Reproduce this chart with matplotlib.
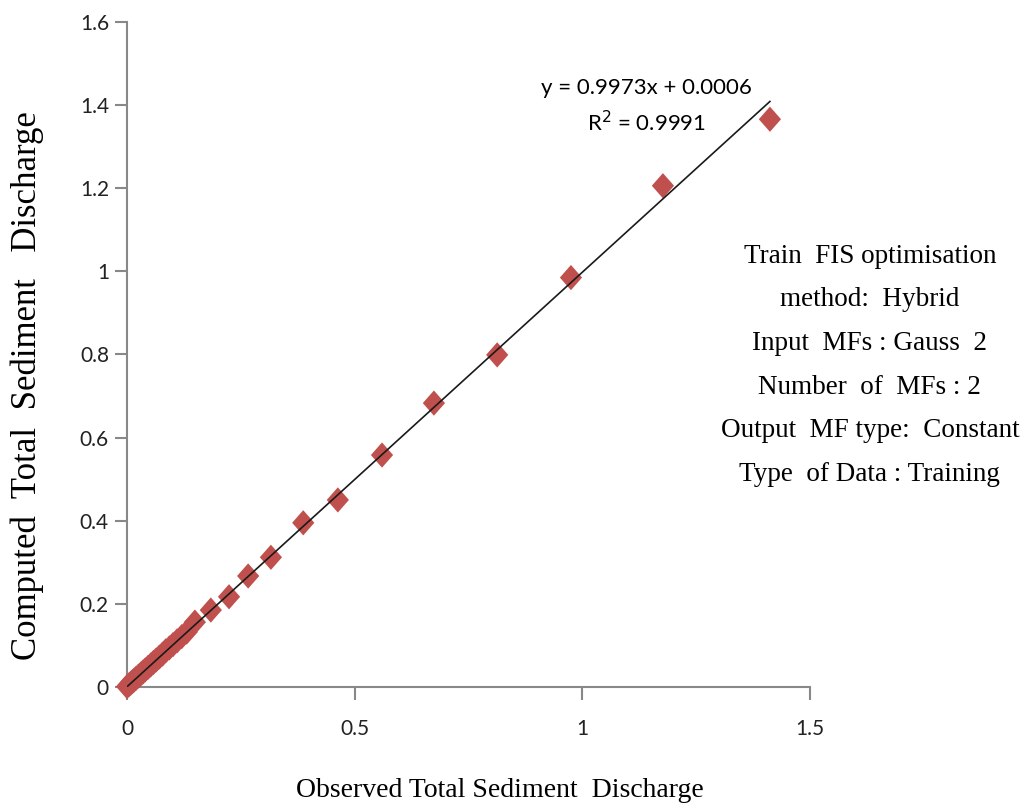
import numpy as np
import matplotlib
matplotlib.use('Agg')
import matplotlib.pyplot as plt

# observed vs computed total sediment discharge (training data)
observed = [0.000, 0.004, 0.008, 0.012, 0.016, 0.020, 0.025, 0.030, 0.035, 0.040,
            0.046, 0.052, 0.058, 0.064, 0.071, 0.078, 0.085, 0.093, 0.101, 0.110,
            0.120, 0.131, 0.149, 0.184, 0.224, 0.266, 0.316, 0.387, 0.463, 0.560,
            0.674, 0.813, 0.975, 1.177, 1.412]
computed = [0.001, 0.005, 0.009, 0.013, 0.017, 0.021, 0.026, 0.031, 0.036, 0.041,
            0.047, 0.053, 0.059, 0.065, 0.072, 0.079, 0.087, 0.094, 0.102, 0.111,
            0.121, 0.132, 0.156, 0.185, 0.217, 0.267, 0.312, 0.395, 0.450, 0.558,
            0.683, 0.799, 0.985, 1.206, 1.366]

slope = 0.9973
intercept = 0.0006
r2 = 0.9991

x_ticks = [0, 0.5, 1, 1.5]
x_tick_labels = ['0', '0.5', '1', '1.5']
y_ticks = [0, 0.2, 0.4, 0.6, 0.8, 1.0, 1.2, 1.4, 1.6]
y_tick_labels = ['0', '0.2', '0.4', '0.6', '0.8', '1', '1.2', '1.4', '1.6']

info_lines = ['Train  FIS optimisation', 'method:  Hybrid', 'Input  MFs : Gauss  2',
              'Number  of  MFs : 2', 'Output  MF type:  Constant', 'Type  of Data : Training']

fig = plt.figure(figsize=(10.27, 8.08), dpi=100)
ax = fig.add_axes([0.1237, 0.1498, 0.665, 0.823])

# slightly tall diamond like the Excel marker
diamond = [(0, 1), (0.88, 0), (0, -1), (-0.88, 0), (0, 1)]
ax.scatter(observed, computed, marker=diamond, s=330, color='#C0504D', edgecolors='none',
           zorder=3, clip_on=False)

xl = np.array([min(observed), max(observed)])
ax.plot(xl, slope * xl + intercept, color='#1a1a1a', lw=1.2, zorder=4)

ax.set_xlim(0, 1.5)
ax.set_ylim(0, 1.6)
ax.set_xticks(x_ticks)
ax.set_xticklabels(x_tick_labels)
ax.set_yticks(y_ticks)
ax.set_yticklabels(y_tick_labels)

for s in ['top', 'right']:
    ax.spines[s].set_visible(False)
for s in ['left', 'bottom']:
    ax.spines[s].set_color('#888888')
    ax.spines[s].set_linewidth(1.5)
    ax.spines[s].set_zorder(1)
ax.tick_params(axis='both', direction='out', length=9, width=1.5, color='#888888',
               labelsize=15, labelcolor='#222222')
ax.tick_params(axis='x', pad=14)
ax.tick_params(axis='y', pad=4)
for lab in ax.get_xticklabels() + ax.get_yticklabels():
    lab.set_family('Lato')

fig.text(0.487, 0.022, 'Observed Total Sediment  Discharge', fontsize=20,
         family='Liberation Serif', ha='center', va='center')
fig.text(0.027, 0.523, 'Computed  Total  Sediment   Discharge', fontsize=25,
         family='Liberation Serif', ha='center', va='center', rotation=90)

ax.text(1.14, 1.44, 'y = 0.9973x + 0.0006', fontsize=16, ha='center', va='center', family='Lato')
ax.text(1.14, 1.357, 'R$^2$ = %.4f' % r2, fontsize=16, ha='center', va='center', family='Lato')

fig.text(0.847, 0.548, '\n'.join(info_lines), fontsize=19.5, ha='center', va='center',
         family='Liberation Serif', linespacing=1.98)

fig.savefig('out.png', dpi=100)
